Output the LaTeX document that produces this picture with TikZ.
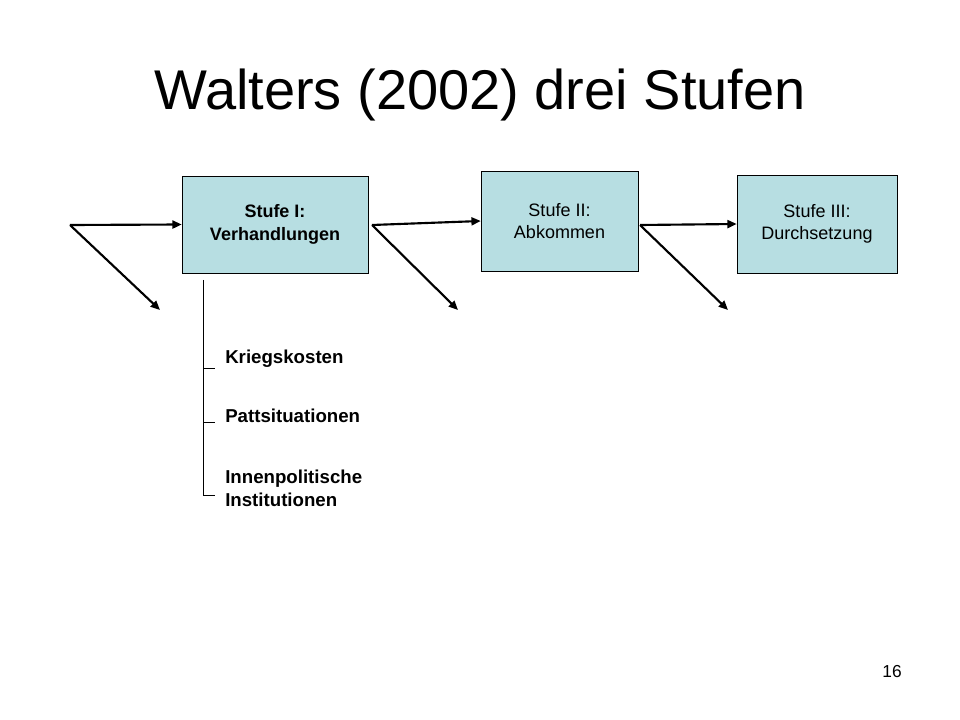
\documentclass[tikz,border=0pt]{standalone}
\usepackage{fontspec}
\setmainfont{Liberation Sans}
\usetikzlibrary{arrows.meta}
\begin{document}
\begin{tikzpicture}[x=0.75pt,y=-0.75pt,
  box/.style={draw=black,fill=cyan!10!teal!25!white,fill=boxc,align=center,font=\fontsize{13.5}{16}\selectfont,inner sep=0pt},
  arr/.style={-{Triangle[length=7pt,width=6pt]},line width=1.6pt},
  item/.style={anchor=west,font=\bfseries\fontsize{14}{17}\selectfont,align=left,inner sep=0pt}]
\definecolor{boxc}{RGB}{183,222,226}
\useasboundingbox (0,0) rectangle (960,720);
\node (title) at (480,95) {\fontsize{42}{48}\selectfont Walters (2002) drei Stufen};
\node[box,minimum width=186*0.75pt,minimum height=97*0.75pt,font=\bfseries\fontsize{13.5}{17}\selectfont] (s1) at (275,224.5) {Stufe I:\\Verhandlungen};
\node[box,minimum width=157*0.75pt,minimum height=100*0.75pt] (s2) at (559.5,221) {Stufe II:\\Abkommen};
\node[box,minimum width=160*0.75pt,minimum height=98*0.75pt] (s3) at (817,224) {Stufe III:\\Durchsetzung};
\coordinate (a0) at (70,225); \coordinate (d0) at (160,310);
\coordinate (a1) at (372,225); \coordinate (d1) at (458,310);
\coordinate (a2) at (640,225); \coordinate (d2) at (728,310);
\draw[arr] (a0) -- (s1.west);
\draw[arr] (a0) -- (d0);
\draw[arr] (a1) -- (s2.west);
\draw[arr] (a1) -- (d1);
\draw[arr] (a2) -- (s3.west);
\draw[arr] (a2) -- (d2);
\coordinate (b0) at (203,280);
\coordinate (b3) at (203,495);
\draw (b0) -- (b3) -- (215,495);
\draw (203,368) -- (215,368);
\draw (203,422) -- (215,422);
\node[item] (k) at (225,359) {Kriegskosten};
\node[item] (p) at (225,416) {Pattsituationen};
\node[item] (i) at (225,488) {Innenpolitische\\Institutionen};
\node (n) at (892,672) {\fontsize{13}{15}\selectfont 16};
\end{tikzpicture}
\end{document}
